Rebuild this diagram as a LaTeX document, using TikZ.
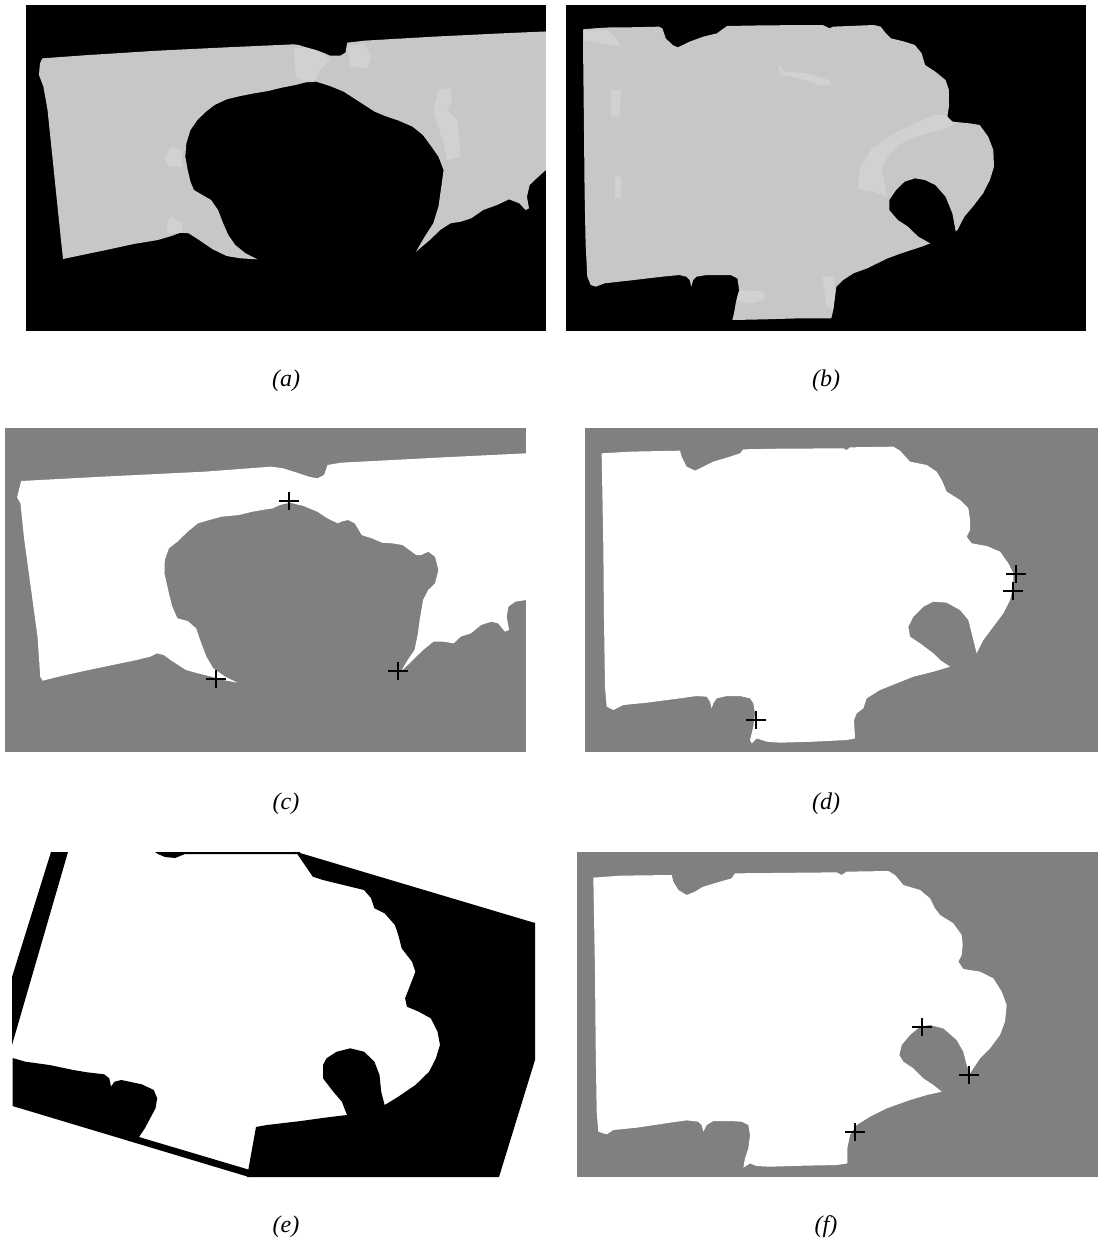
\documentclass[tikz,border=0pt]{standalone}
\usepackage{fontspec}
\setmainfont{Liberation Serif}
\definecolor{mapgray}{RGB}{199,199,199}
\definecolor{maplight}{RGB}{209,209,209}
\definecolor{bggray}{RGB}{128,128,128}
\begin{document}
\begin{tikzpicture}[x=0.5pt,y=-0.5pt,
  blackbg/.style={fill=black},
  graybg/.style={fill=bggray},
  lightmap/.style={fill=mapgray},
  patch/.style={fill=maplight},
  whitemap/.style={fill=white},
  crossline/.style={line width=1.3pt,draw=black},
  lbl/.style={font=\fontsize{12}{14}\selectfont\itshape, inner sep=0pt}]
\useasboundingbox (0,0) rectangle (1098,1243);

% ---------- (a) ----------
\fill[blackbg] (26,5) rectangle (546,331);
\begin{scope}[shift={(20,10)},x=0.1722pt,y=-0.16667pt]
\def\mapA{(65,145)--(200,135)--(400,122)--(600,112)--(795,103)--(810,105)--(830,112)--(860,120)--(885,130)--(900,137)--(930,137)--(945,128)--(950,98)--(1000,92)--(1200,80)--(1400,70)--(1580,62)
--(1580,470)--(1527,480)--(1500,505)--(1480,525)--(1472,560)--(1478,595)--(1468,600)--(1450,580)--(1420,568)--(1385,585)--(1345,600)--(1310,625)--(1280,635)--(1250,640)--(1220,660)--(1190,690)--(1150,725)
--(1175,680)--(1200,640)--(1215,590)--(1222,540)--(1230,480)--(1215,440)--(1195,410)--(1170,375)--(1140,350)--(1100,332)--(1060,318)--(1030,305)--(1000,285)--(970,265)--(940,245)--(900,228)--(860,215)--(830,217)--(800,225)--(760,233)--(720,243)--(680,250)--(640,258)--(600,268)--(565,285)--(540,305)--(515,330)--(495,360)--(483,400)--(480,440)--(487,480)--(495,515)--(505,540)--(530,555)--(555,570)--(575,600)--(590,640)--(605,675)--(625,705)--(655,730)--(690,748)
--(640,745)--(600,738)--(560,718)--(520,690)--(490,670)--(465,668)--(440,678)--(400,690)--(330,702)--(250,720)--(180,735)--(125,747)
--(120,700)--(110,600)--(95,450)--(80,300)--(68,230)--(55,195)--(58,160)--cycle}
\fill[lightmap] \mapA;
\begin{scope}
\clip (17,0) rectangle (1527,962);
\clip \mapA;
\fill[patch] (795,115)--(800,200)--(830,215)--(860,210)--(870,180)--(900,150)--(880,130)--(830,112)--cycle;
\fill[patch] (950,110)--(960,170)--(1010,175)--(1020,140)--(1000,100)--cycle;
\fill[patch] (1215,240)--(1250,235)--(1255,270)--(1240,300)--(1270,330)--(1280,440)--(1240,450)--(1230,400)--(1215,350)--(1200,300)--cycle;
\fill[patch] (420,440)--(440,410)--(470,420)--(470,470)--(430,470)--cycle;
\fill[patch] (425,640)--(440,620)--(470,640)--(470,670)--(430,670)--cycle;
\end{scope}
\end{scope}
\fill[white] (546,0) rectangle (566,340);

% ---------- (b) ----------
\fill[blackbg] (566,5) rectangle (1086,331);
\begin{scope}[shift={(560,10)},x=0.1706pt,y=-0.16667pt]
\def\mapB{(68,58)--(100,55)--(150,52)--(200,52)--(290,50)--(300,55)--(310,85)--(330,105)--(345,112)--(360,105)--(380,95)--(420,80)--(460,70)--(480,55)--(490,48)--(600,46)--(770,45)--(790,55)--(800,50)--(920,45)--(940,50)--(955,70)--(970,85)--(1010,95)--(1040,105)--(1060,130)--(1070,165)--(1100,185)--(1130,210)--(1140,240)--(1140,290)--(1135,320)--(1150,335)--(1200,340)--(1230,345)--(1255,380)--(1270,420)--(1272,470)--(1260,510)--(1240,550)--(1210,590)--(1185,620)--(1165,660)--(1160,665)
--(1150,610)--(1130,560)--(1100,525)--(1070,510)--(1040,505)--(1010,515)--(985,540)--(965,570)--(965,600)--(990,630)--(1020,650)--(1050,680)--(1085,700)
--(1060,710)--(1000,730)--(960,745)--(900,775)--(860,790)--(830,810)--(810,830)--(805,870)--(800,905)--(795,925)--(700,925)--(600,928)--(505,930)--(510,910)--(515,880)--(525,840)--(520,805)--(500,795)--(470,795)--(430,795)--(400,800)--(390,810)--(385,830)--(380,810)--(370,800)--(350,795)--(300,800)--(200,812)--(130,820)--(105,830)--(90,825)--(80,800)--(75,700)--(72,540)--(70,330)--(68,150)--cycle}
\fill[lightmap] \mapB;
\begin{scope}
\clip \mapB;
\fill[patch] (70,60)--(140,60)--(170,90)--(175,110)--(120,100)--(70,90)--cycle;
\fill[patch] (150,240)--(178,240)--(176,320)--(150,320)--cycle;
\fill[patch] (160,500)--(180,500)--(180,565)--(162,565)--cycle;
\fill[patch] (640,160)--(660,185)--(720,190)--(790,210)--(795,225)--(760,225)--(700,205)--(645,195)--cycle;
\fill[patch] (872,538)--(880,470)--(915,415)--(970,375)--(1030,345)--(1095,315)--(1135,315)--(1160,340)--(1120,360)--(1060,375)--(1000,400)--(960,440)--(942,480)--(950,515)--(960,560)--(920,545)--cycle;
\fill[patch] (505,870)--(530,840)--(600,845)--(600,870)--(560,880)--cycle;
\fill[patch] (770,800)--(805,800)--(805,900)--(780,890)--cycle;
\end{scope}
\end{scope}

% ---------- (c) ----------
\fill[graybg] (5,428) rectangle (526,752);
\begin{scope}[shift={(0,420)},x=0.1706pt,y=-0.16667pt]
\fill[whitemap] (62,183)--(300,170)--(600,155)--(795,140)--(830,145)--(870,158)--(905,170)--(930,175)--(950,165)--(960,135)--(1000,128)--(1300,112)--(1542,100)
--(1542,540)--(1510,545)--(1490,560)--(1485,590)--(1492,630)--(1480,635)--(1460,610)--(1440,605)--(1410,615)--(1380,640)--(1350,650)--(1330,670)--(1300,665)--(1270,665)--(1240,690)--(1200,730)--(1175,755)
--(1195,720)--(1215,690)--(1225,640)--(1230,600)--(1240,540)--(1255,510)--(1275,490)--(1285,450)--(1275,410)--(1255,395)--(1235,405)--(1220,405)--(1200,390)--(1180,375)--(1150,370)--(1120,368)--(1090,355)--(1060,345)--(1040,310)--(1020,300)--(1000,305)--(990,310)--(960,295)--(930,275)--(890,258)--(850,248)--(820,255)--(800,265)--(780,268)--(740,275)--(700,285)--(650,290)--(620,298)--(580,310)--(550,335)--(520,365)--(495,385)--(483,420)--(482,460)--(495,520)--(505,560)--(520,595)--(550,603)--(575,625)--(590,670)--(605,710)--(625,745)--(660,770)--(695,788)
--(655,780)--(620,770)--(580,760)--(545,750)--(500,720)--(480,705)--(460,700)--(440,710)--(400,720)--(330,735)--(250,752)--(180,768)--(125,782)--(118,770)--(110,650)--(90,500)--(70,350)--(60,250)--(50,232)--cycle;
\end{scope}
\draw[crossline] (279,501)--(299,501) (289,492)--(289,510);
\draw[crossline] (206,679)--(226,679) (216,670)--(216,688);
\draw[crossline] (388,671)--(408,671) (398,662)--(398,680);

% ---------- (d) ----------
\fill[graybg] (585,428) rectangle (1098,752);
\begin{scope}[shift={(580,420)},x=0.16667pt,y=-0.16667pt]
\fill[whitemap] (65,100)--(150,95)--(300,92)--(305,110)--(320,140)--(345,152)--(370,140)--(400,125)--(450,110)--(480,100)--(490,88)--(600,86)--(790,85)--(800,90)--(810,82)--(940,80)--(960,92)--(990,125)--(1040,135)--(1070,155)--(1085,180)--(1100,215)--(1140,240)--(1165,265)--(1170,300)--(1170,330)--(1160,350)--(1175,370)--(1220,378)--(1260,395)--(1285,430)--(1300,460)--(1300,500)--(1290,540)--(1270,580)--(1240,620)--(1210,660)--(1190,700)
--(1185,680)--(1175,640)--(1165,600)--(1140,570)--(1100,548)--(1060,545)--(1030,560)--(1000,590)--(985,620)--(990,650)--(1020,670)--(1060,700)--(1080,720)--(1110,740)
--(1060,755)--(1000,770)--(950,790)--(900,810)--(860,835)--(850,865)--(830,880)--(822,900)--(825,955)--(800,960)--(700,965)--(600,968)--(560,965)--(530,955)--(515,970)--(510,960)--(520,920)--(525,880)--(520,850)--(510,835)--(480,828)--(440,828)--(410,835)--(400,850)--(395,865)--(390,845)--(380,830)--(350,828)--(300,835)--(200,848)--(130,855)--(100,870)--(80,860)--(75,800)--(72,600)--(70,380)--cycle;
\end{scope}
\draw[crossline] (1006,574)--(1026,574) (1016,565)--(1016,583);
\draw[crossline] (1003,591)--(1023,591) (1013,582)--(1013,600);
\draw[crossline] (746,720)--(766,720) (756,711)--(756,729);

% ---------- (e) ----------
\fill[blackbg] (12,977)--(51,852)--(68,852)--(12,1045)--cycle;
\fill[blackbg] (155,852)--(300,852)--(300,854)--(185,854)--(175,858)--(165,857)--(158,854)--cycle;
\fill[blackbg] (12.5,1058)--(25.5,1061.7)--(49.5,1065)--(73.4,1070)--(87.1,1072.3)--(104.2,1074.3)--(109.3,1078.3)--(111,1086.7)--(114.4,1081.7)--(121.3,1080)--(141.8,1084.3)--(153.8,1090)--(157.2,1098.3)--(155.5,1108.3)--(145,1128)--(139,1137)--(250,1170)--(249,1177)--(12.5,1106)--cycle;
\fill[blackbg] (295.7,851.7)--(535,923)--(535,1060)--(499,1177)--(247,1177)--(256,1127)--(267,1125)--(284,1123)--(301,1121)--(308,1120)--(330,1117)--(347,1115)--(341.9,1101.7)--(333.3,1091.7)--(323,1078.3)--(323,1065)--(326.5,1058.3)--(336.7,1051.7)--(350.4,1048.3)--(364.1,1051.7)--(374.4,1061.7)--(379.5,1075)--(381.2,1091.7)--(384.6,1105)--(388,1103)--(398.3,1096.7)--(415.4,1085)--(429.1,1071.7)--(435.9,1058.3)--(440,1045)--(437.6,1031.7)--(430.8,1018.3)--(418.8,1011.7)--(406.9,1006.7)--(405.1,998.3)--(410.3,985)--(415.4,971.7)--(412,961.7)--(401.7,948.3)--(398.3,935)--(394.9,925)--(384.6,913.3)--(374.4,908.3)--(371,898)--(364,890)--(323,880)--(312.8,876.7)--cycle;

% ---------- (f) ----------
\fill[graybg] (577,852) rectangle (1098,1177);
\begin{scope}[shift={(570,845)},x=0.16667pt,y=-0.16667pt]
\fill[whitemap] (70,98)--(150,92)--(305,90)--(310,110)--(325,135)--(350,150)--(375,140)--(400,125)--(450,110)--(485,100)--(495,85)--(600,84)--(800,82)--(815,90)--(830,80)--(955,78)--(975,90)--(1000,120)--(1050,135)--(1080,160)--(1095,190)--(1110,210)--(1150,235)--(1175,270)--(1178,300)--(1175,330)--(1165,350)--(1180,372)--(1230,380)--(1270,400)--(1295,440)--(1310,480)--(1305,530)--(1290,570)--(1260,610)--(1230,640)--(1210,670)--(1200,685)
--(1190,660)--(1180,620)--(1160,585)--(1120,550)--(1080,540)--(1050,545)--(1020,570)--(995,600)--(988,630)--(1000,650)--(1030,670)--(1060,700)--(1090,720)--(1115,740)
--(1070,750)--(1020,765)--(950,790)--(900,815)--(860,840)--(840,870)--(832,910)--(832,955)--(800,960)--(700,962)--(600,965)--(560,963)--(540,955)--(520,968)--(525,940)--(535,910)--(540,870)--(535,840)--(515,830)--(480,828)--(430,828)--(410,840)--(400,860)--(395,840)--(385,830)--(350,826)--(300,833)--(200,848)--(130,855)--(110,868)--(85,860)--(80,800)--(77,600)--(75,380)--cycle;
\end{scope}
\draw[crossline] (912,1027)--(932,1027) (922,1018)--(922,1036);
\draw[crossline] (959,1075)--(979,1075) (969,1066)--(969,1084);
\draw[crossline] (845,1132)--(865,1132) (855,1123)--(855,1141);

% ---------- labels ----------
\node[lbl] (la) at (286,381) {(a)};
\node[lbl] (lb) at (826,381) {(b)};
\node[lbl] (lc) at (286,804) {(c)};
\node[lbl] (ld) at (826,804) {(d)};
\node[lbl] (le) at (286,1227) {(e)};
\node[lbl] (lf) at (826,1227) {(f)};
\end{tikzpicture}
\end{document}
